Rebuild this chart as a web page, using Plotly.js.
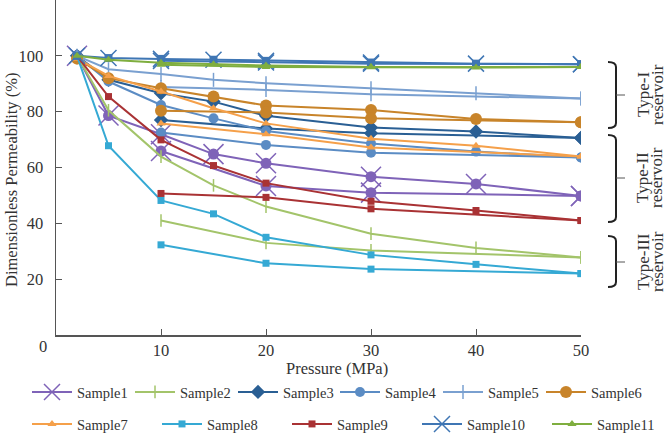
<!DOCTYPE html>
<html>
<head>
<meta charset="utf-8">
<script src="https://cdn.plot.ly/plotly-3.0.1.min.js"></script>
<style>html,body{margin:0;padding:0;background:#fff;}#chart{width:669px;height:437px;}</style>
</head>
<body>
<div id="chart"></div>
<script>
// ---- Data ----
const pressureLoading = [2, 5, 10, 15, 20, 30, 40, 50];
const pressureUnloading = [10, 20, 30, 50];

const sampleNames = ["Sample1","Sample2","Sample3","Sample4","Sample5","Sample6","Sample7","Sample8","Sample9","Sample10","Sample11"];

const sample1Loading   = [100, 78.6, 71.9, 64.8, 61.5, 56.7, 54.1, 49.8];
const sample1Unloading = [65.9, 53.4, 51.0, 49.8];
const sample2Loading   = [100, 80.5, 63.9, 53.6, 46.0, 36.3, 31.2, 27.8];
const sample2Unloading = [41.0, 33.0, 30.3, 27.8];
const sample3Loading   = [100, 91.4, 86.6, 83.6, 78.5, 74.3, 72.9, 70.6];
const sample3Unloading = [77.0, 74.0, 72.3, 70.6];
const sample4Loading   = [100, 90.8, 82.4, 77.6, 73.1, 68.6, 65.7, 63.6];
const sample4Unloading = [72.5, 68.1, 65.3, 63.6];
const sample5Loading   = [100, 95.2, 93.5, 91.4, 90.2, 88.4, 86.6, 84.7];
const sample5Unloading = [88.8, 87.8, 86.2, 84.7];
const sample6Loading   = [99, 92.0, 88.4, 85.4, 82.2, 80.6, 77.4, 76.2];
const sample6Unloading = [80.3, 79.7, 77.6, 76.2];
const sample7Loading   = [99, 92.8, 87.2, 81.2, 75.8, 70.3, 67.8, 63.9];
const sample7Unloading = [75.8, 71.9, 67.2, 63.9];
const sample8Loading   = [100, 67.8, 48.2, 43.4, 35.0, 28.7, 25.3, 22.0];
const sample8Unloading = [32.3, 25.7, 23.6, 22.0];
const sample9Loading   = [100, 85.4, 69.9, 60.7, 54.4, 47.9, 44.6, 41.0];
const sample9Unloading = [50.7, 49.3, 45.2, 41.0];
const sample10Loading   = [100, 99.2, 98.9, 98.6, 98.2, 97.6, 97.2, 97.0];
const sample10Unloading = [98.2, 97.6, 97.2, 97.0];
const sample11Loading   = [100, 98.6, 97.5, 97.0, 96.5, 96.0, 95.8, 96.0];
const sample11Unloading = [96.8, 96.0, 95.9, 96.0];

const yTickValues = [20, 40, 60, 80, 100];
const xTickValues = [10, 20, 30, 40, 50];

// ---- Styling ----
const loadings = [sample1Loading, sample2Loading, sample3Loading, sample4Loading, sample5Loading, sample6Loading, sample7Loading, sample8Loading, sample9Loading, sample10Loading, sample11Loading];
const unloadings = [sample1Unloading, sample2Unloading, sample3Unloading, sample4Unloading, sample5Unloading, sample6Unloading, sample7Unloading, sample8Unloading, sample9Unloading, sample10Unloading, sample11Unloading];
const colors = ['#7F63B8','#A3C46A','#2A5F94','#5B8CC4','#7AA0D0','#C8842A','#F5A04A','#35A9D4','#A93234','#3F76B4','#7FAE3F'];
const symbols = ['x-thin-open','line-ns-open','diamond','circle','line-ns-open','circle','triangle-up','square','square','x-thin-open','triangle-up'];
const sizes = [20, 9, 11, 10, 10, 12, 8, 7, 7, 16, 8];
// legend block for each sample (two rows, each split in two blocks)
const legendOf = ['legend','legend','legend','legend3','legend3','legend3','legend2','legend2','legend2','legend4','legend4'];
const FONT = 'Liberation Serif, Times New Roman, serif';

const xAll = pressureLoading.concat([null], pressureUnloading);
const traces = [];
sampleNames.forEach((name, i) => {
  const y = loadings[i].concat([null], unloadings[i]);
  const isX = symbols[i] === 'x-thin-open';
  const isLine = symbols[i] === 'line-ns-open';
  traces.push({
    type: 'scatter', mode: 'lines+markers', name: name,
    x: xAll, y: y, connectgaps: false,
    legend: legendOf[i],
    line: {color: colors[i], width: 2},
    marker: {symbol: symbols[i], size: sizes[i], color: colors[i],
             line: {color: colors[i], width: (isX || isLine) ? 1.5 : 0}}
  });
  if (isX) {
    traces.push({
      type: 'scatter', mode: 'markers', showlegend: false, hoverinfo: 'skip',
      x: xAll, y: y,
      marker: {symbol: i === 0 ? 'circle' : 'square', size: i === 0 ? 11 : 8, color: colors[i]}
    });
  }
});

// brackets (paper coordinates)
function px2x(px){ return (px - 56) / 525; }
function py2y(py){ return (335 - py) / 335; }
function bracket(top, bot, mid){
  const x0 = px2x(608), x1 = px2x(616), x2 = px2x(625);
  const t = py2y(top), b = py2y(bot), m = py2y(mid), e = 0.015;
  return [
    {type:'path', xref:'paper', yref:'paper', line:{color:'#222', width:2},
     path:`M ${x0},${t} Q ${x1},${t} ${x1},${t-e} L ${x1},${b+e} Q ${x1},${b} ${x0},${b}`},
    {type:'line', xref:'paper', yref:'paper', x0:x1, x1:x2, y0:m, y1:m, line:{color:'#555', width:1}}
  ];
}
const shapes = [].concat(bracket(62,128,95), bracket(135,222,178), bracket(236,287,262));

const annFont = {family: FONT, size: 16.5, color: '#333'};
const typeFont = {family: FONT, size: 17, color: '#333'};
function ann(text, px, py, angle, font){
  return {text:text, xref:'paper', yref:'paper', x:px2x(px), y:py2y(py), xanchor:'center', yanchor:'middle',
          textangle:angle, showarrow:false, font:font};
}
const annotations = [
  ann('0', 43, 346, 0, annFont),
  ann('Dimensionless Permeability (%)', 11, 180, -90, annFont),
  ann('Pressure (MPa)', 337, 368, 0, annFont),
  ann('Type-I', 643, 95, -90, typeFont), ann('reservoir', 657, 95, -90, typeFont),
  ann('Type-II', 643, 178, -90, typeFont), ann('reservoir', 657, 178, -90, typeFont),
  ann('Type-III', 643, 262, -90, typeFont), ann('reservoir', 657, 262, -90, typeFont)
];

const legendBase = {orientation:'h', xref:'container', yref:'container', xanchor:'left', yanchor:'middle',
  entrywidthmode:'pixels', itemwidth:40, font:{family:FONT, size:14.5, color:'#333'},
  bgcolor:'rgba(0,0,0,0)', tracegroupgap:0};
function leg(px, py, ew){ return Object.assign({}, legendBase, {x:px/669, y:1 - py/437, entrywidth:ew}); }

const layout = {
  width: 669, height: 437,
  margin: {l:56, r:88, t:0, b:102, autoexpand:false},
  paper_bgcolor:'#fff', plot_bgcolor:'#fff',
  font: {family: FONT, size: 16.5, color:'#333'},
  xaxis: {range:[0,50], tickvals:xTickValues, ticks:'inside', ticklen:6, tickcolor:'#555',
          showline:true, linecolor:'#555', linewidth:1.5, showgrid:false, zeroline:false,
          tickfont:{family:FONT, size:16.5, color:'#333'}},
  yaxis: {range:[0,120], tickvals:yTickValues, ticks:'inside', ticklen:6, tickcolor:'#555',
          showline:true, linecolor:'#555', linewidth:1.5, showgrid:false, zeroline:false,
          ticklabelstandoff:8,
          tickfont:{family:FONT, size:16.5, color:'#333'}},
  legend:  leg(27, 392, 48),
  legend3: leg(335, 392, 48),
  legend2: leg(27, 424, 75),
  legend4: leg(417, 424, 75),
  shapes: shapes,
  annotations: annotations,
  showlegend: true
};

Plotly.newPlot('chart', traces, layout, {displayModeBar:false, staticPlot:true});
</script>
</body>
</html>
